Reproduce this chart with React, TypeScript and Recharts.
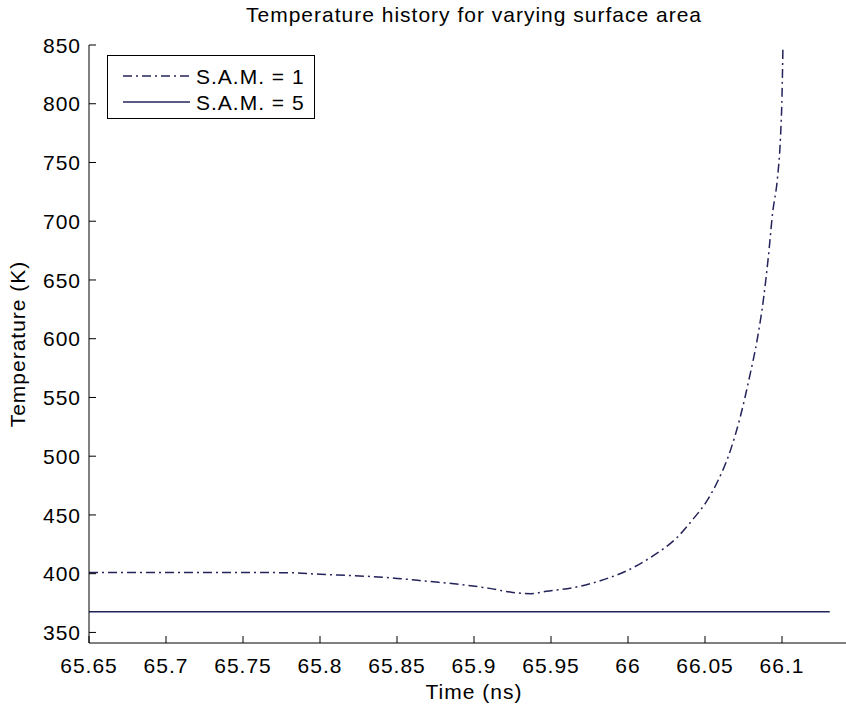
import { LineChart, Line, XAxis, YAxis, Legend } from 'recharts'

// S.A.M. = 1 : temperature history
const times1 = [
  65.65, 65.7, 65.75, 65.78, 65.8, 65.83, 65.85, 65.87, 65.89, 65.91, 65.925, 65.937, 65.947, 65.964, 65.982,
  66.0, 66.016, 66.032, 66.042, 66.051, 66.058, 66.066, 66.073, 66.079, 66.084, 66.088, 66.091, 66.094, 66.097,
  66.099, 66.1, 66.1006,
]
const temps1 = [
  401, 401, 401, 400.8, 399.5, 397.8, 396, 393.5, 391, 387.5, 384, 383, 385, 388, 394,
  403, 415, 431, 446, 461.5, 478, 503, 534, 568, 600, 634, 668, 708, 736,
  771, 806, 848,
]

// S.A.M. = 5 : flat line
const times5 = [65.65, 65.75, 65.85, 65.95, 66.05, 66.131]
const temps5 = [367.5, 367.5, 367.5, 367.5, 367.5, 367.5]

const xTicks = [65.65, 65.7, 65.75, 65.8, 65.85, 65.9, 65.95, 66, 66.05, 66.1]
const yTicks = [350, 400, 450, 500, 550, 600, 650, 700, 750, 800, 850]

const sam1 = times1.map((t, i) => ({ t, T: temps1[i] }))
const sam5 = times5.map((t, i) => ({ t, T: temps5[i] }))

const FONT = '"Liberation Sans", Arial, sans-serif'
const INK = '#23235a'
const DASH1 = '9 4 2 4'

const textProps = { fontSize: 21, fontFamily: FONT, letterSpacing: 1, fill: '#000' }

function YTick({ x, y, payload }: any) {
  return (
    <g>
      <line x1={x} y1={y} x2={x + 7} y2={y} stroke="#000" />
      <text x={x - 8} y={y} dy="0.36em" textAnchor="end" {...textProps}>
        {payload.value}
      </text>
    </g>
  )
}

function XTick({ x, y, payload }: any) {
  return (
    <g>
      <line x1={x} y1={y} x2={x} y2={y - 7} stroke="#000" />
      <text x={x} y={y + 30} textAnchor="middle" {...textProps}>
        {String(payload.value)}
      </text>
    </g>
  )
}

function XLabel({ viewBox }: any) {
  return (
    <text x={viewBox.x + viewBox.width / 2} y={viewBox.y + 56} textAnchor="middle" {...textProps}>
      Time (ns)
    </text>
  )
}

function YLabel({ viewBox }: any) {
  const cy = viewBox.y + viewBox.height / 2
  return (
    <text x={25} y={cy} textAnchor="middle" transform={`rotate(-90, 25, ${cy})`} {...textProps}>
      Temperature (K)
    </text>
  )
}

function LegendBox({ payload }: any) {
  return (
    <svg width={208} height={64} style={{ display: 'block' }}>
      <rect x={0.5} y={0.5} width={207} height={63} fill="#fff" stroke="#000" />
      {(payload || []).map((p: any, i: number) => (
        <g key={p.value}>
          <line
            x1={16}
            x2={83}
            y1={21 + i * 26}
            y2={21 + i * 26}
            stroke={p.color}
            strokeWidth={1.5}
            strokeDasharray={p.payload?.strokeDasharray}
          />
          <text x={89} y={29 + i * 25.5} {...textProps}>
            {p.value}
          </text>
        </g>
      ))}
    </svg>
  )
}

export default function App() {
  return (
    <div style={{ position: 'absolute', left: 0, top: 0, width: 846, height: 707, overflow: 'hidden', background: '#fff' }}>
      <div
        style={{
          position: 'absolute',
          left: 0,
          top: 4,
          width: 948,
          textAlign: 'center',
          fontFamily: FONT,
          fontSize: 21,
          lineHeight: '21px',
          letterSpacing: 1,
          color: '#000',
          whiteSpace: 'nowrap',
          zIndex: 2,
        }}
      >
        Temperature history for varying surface area
      </div>
      <LineChart width={870} height={707} margin={{ top: 45, right: 11, left: 0, bottom: 0 }}>
        <XAxis
          type="number"
          dataKey="t"
          domain={[65.65, 66.15]}
          ticks={xTicks}
          interval={0}
          height={64}
          tickSize={0}
          tickMargin={0}
          tickLine={false}
          axisLine={{ stroke: '#000' }}
          tick={<XTick />}
          label={<XLabel />}
          allowDataOverflow
        />
        <YAxis
          type="number"
          dataKey="T"
          domain={[341, 850]}
          ticks={yTicks}
          interval={0}
          width={89}
          tickSize={0}
          tickMargin={0}
          tickLine={false}
          axisLine={{ stroke: '#000' }}
          tick={<YTick />}
          label={<YLabel />}
          allowDataOverflow
        />
        <Legend
          layout="vertical"
          align="center"
          verticalAlign="middle"
          width={208}
          height={64}
          content={<LegendBox />}
          wrapperStyle={{ left: 107, top: 55, width: 208, height: 64, margin: 0, padding: 0 }}
        />
        <Line
          data={sam1}
          dataKey="T"
          name="S.A.M. = 1"
          type="monotone"
          stroke={INK}
          strokeWidth={1.5}
          strokeDasharray={DASH1}
          dot={false}
          activeDot={false}
          isAnimationActive={false}
        />
        <Line
          data={sam5}
          dataKey="T"
          name="S.A.M. = 5"
          type="linear"
          stroke={INK}
          strokeWidth={1.5}
          dot={false}
          activeDot={false}
          isAnimationActive={false}
        />
      </LineChart>
    </div>
  )
}
